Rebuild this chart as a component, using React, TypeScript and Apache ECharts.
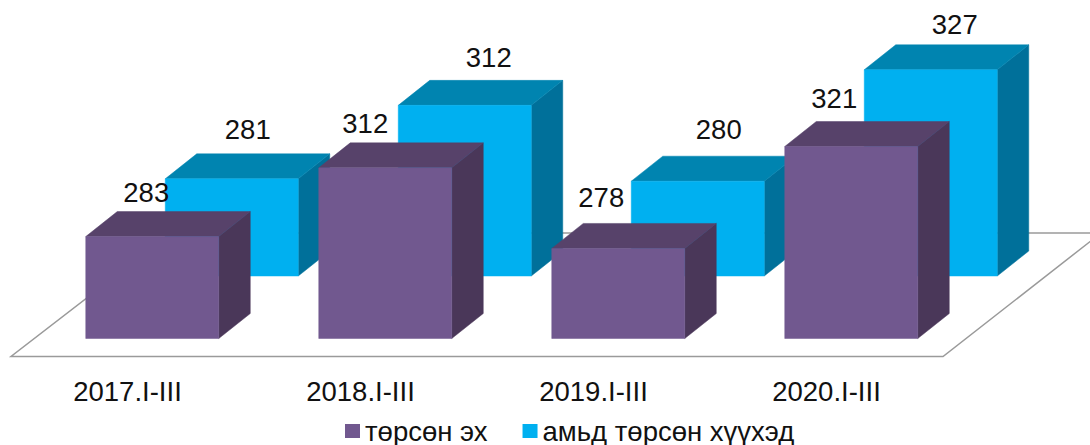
import React, { useEffect, useRef } from "react";
import * as echarts from "echarts";

const categories = ["2017.I-III", "2018.I-III", "2019.I-III", "2020.I-III"];
const motherValues = [283, 312, 278, 321];
const childValues = [281, 312, 280, 327];
const motherName = "төрсөн эх";
const childName = "амьд төрсөн хүүхэд";

const FONT = '"Liberation Sans", Arial, sans-serif';
const BAR_W = 133;
const DEPTH_X = 31.5;
const DEPTH_Y = 25;
// label nudges relative to each bar's centre (dx) and front top (dy)
const motherLabelNudge = [[-6, -44], [-20, -44], [-17, -51], [-17, -48]];
const childLabelNudge = [[16, -49], [24, -48], [21, -52], [24, -45]];

function box(cx: number, top: number, bottom: number, face: string, roof: string, side: string, text: string, nudge: number[]) {
  const l = cx - BAR_W / 2;
  const r = cx + BAR_W / 2;
  const poly = (points: number[][], fill: string) => ({
    type: "polygon",
    shape: { points },
    style: { fill, stroke: fill, lineWidth: 0.5 },
  });
  return {
    type: "group",
    children: [
      poly([[r, top], [r + DEPTH_X, top - DEPTH_Y], [r + DEPTH_X, bottom - DEPTH_Y], [r, bottom]], side),
      poly([[l, top], [l + DEPTH_X, top - DEPTH_Y], [r + DEPTH_X, top - DEPTH_Y], [r, top]], roof),
      poly([[l, top], [r, top], [r, bottom], [l, bottom]], face),
      {
        type: "text",
        z2: 50,
        style: {
          text,
          x: cx + nudge[0],
          y: top + nudge[1],
          font: `27.5px ${FONT}`,
          fill: "#111111",
          align: "center",
          verticalAlign: "middle",
        },
      },
    ],
  };
}

function barSeries(
  name: string,
  values: number[],
  shiftX: number,
  shiftY: number,
  colors: string[],
  nudges: number[][],
  z: number
) {
  return {
    type: "custom",
    name,
    z,
    silent: true,
    clip: false,
    itemStyle: { color: colors[0] },
    encode: { x: 0, y: 1 },
    data: values.map((v, i) => [i, v]),
    renderItem: (_p: any, api: any) => {
      const i = api.value(0);
      const val = api.value(1);
      const [cx, top] = api.coord([i, val]);
      const [, bottom] = api.coord([i, 240]);
      return box(cx + shiftX, top + shiftY, bottom + shiftY, colors[0], colors[1], colors[2], String(val), nudges[i]);
    },
  };
}

export default function App() {
  const ref = useRef<HTMLDivElement>(null);
  useEffect(() => {
    const chart = echarts.init(ref.current!, null, { renderer: "svg" });
    chart.setOption({
      animation: false,
      backgroundColor: "#ffffff",
      grid: { left: 11, width: 932, top: 6.7, height: 331.8 },
      legend: {
        left: 340,
        top: 412,
        padding: [5, 5, 0, 5],
        selectedMode: false,
        icon: "rect",
        itemWidth: 15,
        itemHeight: 14,
        itemGap: 35,
        textStyle: { fontFamily: FONT, fontSize: 27.5, color: "#111111" },
        data: [
          { name: motherName, itemStyle: { color: "#71588F" } },
          { name: childName, itemStyle: { color: "#00B0F0" } },
        ],
      },
      xAxis: {
        type: "category",
        data: categories,
        axisLine: { show: false },
        axisTick: { show: false },
        axisLabel: { margin: 39, fontFamily: FONT, fontSize: 27.5, color: "#111111" },
      },
      yAxis: { type: "value", min: 240, max: 380, show: false },
      series: [
        {
          type: "custom",
          name: "floor",
          z: 1,
          silent: true,
          clip: false,
          data: [[0, 240]],
          encode: { x: 0, y: 1 },
          renderItem: (p: any, api: any) => {
            const c = p.coordSys;
            const [, base] = api.coord([0, 240]);
            const front = base + 18;
            const back = base - 105.5;
            return {
              type: "polygon",
              shape: {
                points: [
                  [c.x, front],
                  [c.x + c.width, front],
                  [c.x + c.width + 158, back],
                  [c.x + 160, back],
                ],
              },
              style: { fill: "#ffffff", stroke: "#9a9a9a", lineWidth: 1.5 },
            };
          },
        },
        barSeries(childName, childValues, 24.75 + 79.5, -62.5, ["#00B0F0", "#0084B0", "#00709A"], childLabelNudge, 2),
        barSeries(motherName, motherValues, 24.75, 0, ["#71588F", "#57426A", "#4A3759"], motherLabelNudge, 3),
      ],
    });
    return () => chart.dispose();
  }, []);
  return <div ref={ref} style={{ position: "absolute", left: 0, top: 0, width: 1090, height: 445, overflow: "hidden" }} />;
}
